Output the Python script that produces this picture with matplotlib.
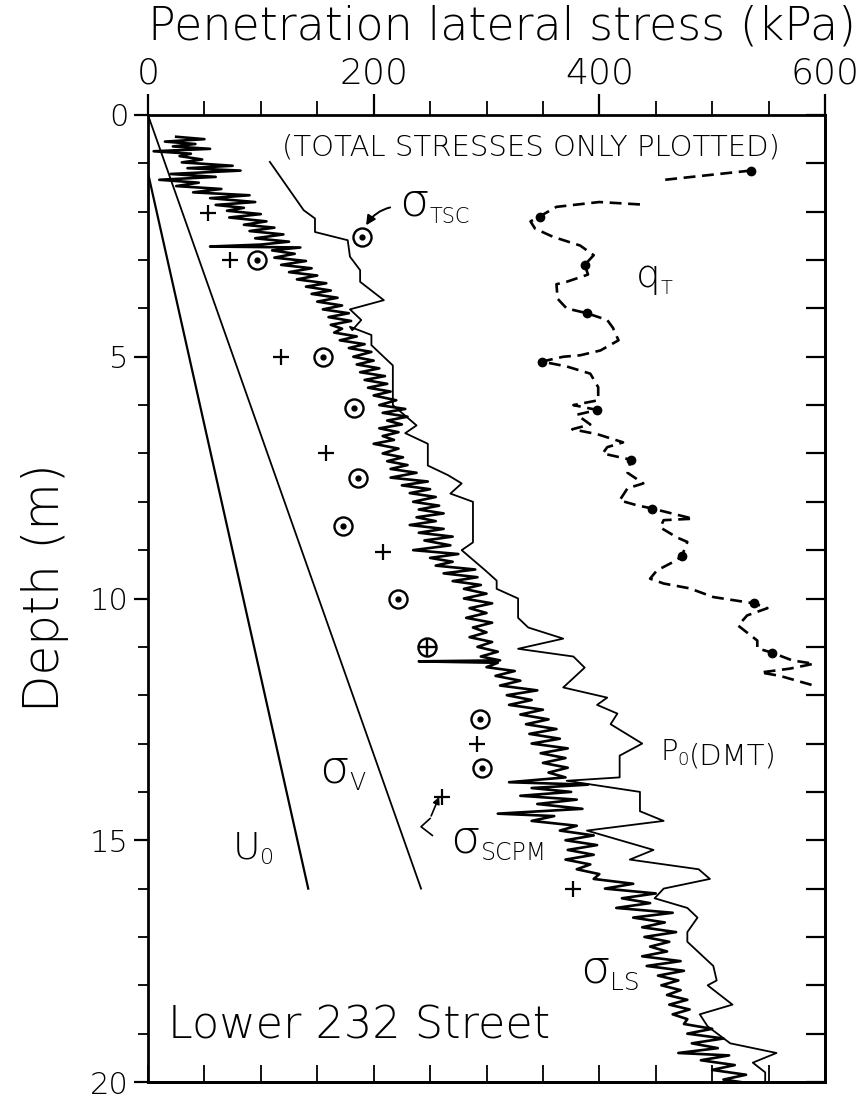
import numpy as np
import matplotlib
matplotlib.use("Agg")
import matplotlib.pyplot as plt
from matplotlib.ticker import MultipleLocator

plt.rcParams["font.family"] = ["DejaVu Sans"]
plt.rcParams["font.weight"] = "light"
plt.rcParams["mathtext.fontset"] = "dejavusans"

# ---------------------------------------------------------------- data
# hydrostatic pore pressure and total vertical stress (kPa vs depth m)
u0_x, u0_d = [0, 142], [1.2, 16.0]
sv_x, sv_d = [0, 242], [0.0, 16.0]

# flat dilatometer P0 (DMT) profile
dmt_x = [108, 138, 148, 148, 177, 179, 188, 188, 209, 179, 189, 181, 179, 198, 198,
         217, 217, 238, 228, 248, 248, 266, 278, 268, 288, 288, 278, 299, 309, 309,
         328, 328, 337, 368, 328, 377, 387, 368, 407, 398, 416, 410, 438, 418, 418,
         371, 436, 436, 457, 389, 448, 427, 488, 498, 457, 449, 478, 487, 478, 478,
         501, 504, 496, 518, 489, 496, 516, 557, 536, 547, 547]
dmt_d = [0.97, 1.97, 2.14, 2.42, 2.59, 2.93, 3.21, 3.45, 3.83, 4.02, 4.24, 4.45, 4.38,
         4.55, 4.76, 5.18, 6.0, 6.42, 6.58, 6.8, 7.25, 7.45, 7.62, 7.83, 8.0, 8.84,
         9.0, 9.42, 9.63, 9.8, 10.0, 10.4, 10.6, 10.83, 11.04, 11.2, 11.43, 11.84,
         12.05, 12.2, 12.38, 12.6, 13.0, 13.25, 13.7, 13.77, 14.0, 14.4, 14.6, 14.8,
         15.2, 15.4, 15.6, 15.8, 16.0, 16.2, 16.4, 16.6, 16.9, 17.1, 17.6, 17.9, 18.0,
         18.4, 18.6, 18.85, 19.2, 19.4, 19.6, 19.8, 20.0]

# cone tip resistance q_T (dashed)
qt_x = [534, 458, np.nan, 436, 400, 362, 347, 339, 343, 359, 383, 395, 387, 390, 371,
        362, 363, 371, 389, 407, 412, 417, 401, 383, 368, 349, 371, 392, 399, 399,
        377, 398, 380, 392, 376, 398, 421, 407, 403, 428, 425, 439, 425, 418, 433,
        447, 483, 457, 454, 469, 478, 473, 465, 451, 445, 457, 480, 501, 537, 549,
        531, 523, 540, 540, 553, 571, 590, 569, 543, 560, 590]
qt_d = [1.15, 1.34, np.nan, 1.85, 1.80, 1.90, 2.1, 2.2, 2.35, 2.52, 2.7, 2.9, 3.1, 3.3,
        3.45, 3.5, 3.8, 4.0, 4.1, 4.24, 4.4, 4.66, 4.87, 4.97, 5.0, 5.1, 5.2, 5.35,
        5.63, 5.9, 6.0, 6.1, 6.2, 6.4, 6.5, 6.6, 6.77, 6.87, 7.0, 7.13, 7.4, 7.62,
        7.72, 7.97, 8.07, 8.14, 8.35, 8.38, 8.53, 8.74, 8.83, 9.13, 9.25, 9.42, 9.59,
        9.69, 9.79, 9.97, 10.1, 10.2, 10.35, 10.56, 10.87, 11.03, 11.12, 11.28, 11.35,
        11.45, 11.53, 11.6, 11.8]
qt_dot_x = [534, 347, 387, 389, 349, 398, 428, 447, 473, 537, 553]
qt_dot_d = [1.15, 2.1, 3.1, 4.1, 5.1, 6.1, 7.13, 8.14, 9.13, 10.1, 11.12]

# lateral stress sensor trace (sigma_LS), read as a zig-zag scribble
ls_d = [0.45, 0.50, 0.55, 0.60, 0.65, 0.70, 0.75, 0.80, 0.85, 0.92, 0.98,
        1.05, 1.10, 1.15, 1.22, 1.28, 1.34, 1.40, 1.47, 1.53, 1.60, 1.66, 1.72, 1.80, 1.86, 1.92, 1.98,
        2.05, 2.12, 2.20, 2.27, 2.33, 2.40, 2.47, 2.55, 2.62, 2.68, 2.72, 2.74, 2.80, 2.87, 2.95,
        3.02, 3.10, 3.17, 3.25, 3.32, 3.40, 3.48, 3.55, 3.63, 3.70, 3.78, 3.86, 3.94,
        4.02, 4.10, 4.18, 4.26, 4.34, 4.42, 4.50, 4.58, 4.66, 4.74, 4.82, 4.90,
        5.00, 5.08, 5.16, 5.24, 5.32, 5.40, 5.48, 5.56, 5.64, 5.72, 5.80, 5.90,
        6.00, 6.08, 6.16, 6.24, 6.32, 6.40, 6.48, 6.56, 6.64, 6.72, 6.80, 6.90,
        7.00, 7.08, 7.16, 7.24, 7.32, 7.40, 7.50, 7.58, 7.66, 7.74, 7.82, 7.90,
        8.00, 8.08, 8.16, 8.24, 8.32, 8.40, 8.48, 8.56, 8.64, 8.72, 8.80, 8.90,
        9.00, 9.08, 9.16, 9.24, 9.32, 9.40, 9.48, 9.56, 9.64, 9.72, 9.80, 9.90,
        10.0, 10.1, 10.2, 10.3, 10.4, 10.5, 10.6, 10.7, 10.8, 10.9, 11.0,
        11.1, 11.2, 11.28, 11.30, 11.33, 11.42, 11.5, 11.6, 11.7, 11.8, 11.9, 12.0,
        12.1, 12.2, 12.3, 12.4, 12.5, 12.6, 12.7, 12.8, 12.9, 13.0,
        13.1, 13.2, 13.3, 13.4, 13.5, 13.6, 13.7, 13.8, 13.85, 13.92, 14.0,
        14.08, 14.16, 14.25, 14.35, 14.45, 14.5, 14.6, 14.7, 14.8, 14.9, 15.0,
        15.1, 15.2, 15.3, 15.4, 15.5, 15.6, 15.7, 15.8, 15.9, 16.0,
        16.1, 16.2, 16.3, 16.4, 16.5, 16.6, 16.7, 16.8, 16.9, 17.0,
        17.1, 17.2, 17.3, 17.4, 17.5, 17.6, 17.7, 17.8, 17.9, 18.0,
        18.1, 18.2, 18.3, 18.4, 18.5, 18.6, 18.7, 18.8, 18.9, 19.0,
        19.1, 19.2, 19.3, 19.4, 19.45, 19.55, 19.65, 19.75, 19.85, 19.95, 20.0]
ls_x = [25, 50, 15, 42, 22, 55, 5, 38, 28, 48, 30,
        75, 35, 82, 20, 60, 10, 45, 25, 65, 40, 90, 55, 95, 60, 85, 70,
        100, 72, 105, 85, 112, 90, 120, 95, 125, 100, 55, 135, 110, 130, 112,
        140, 118, 145, 125, 150, 132, 158, 140, 162, 145, 168, 150, 172,
        155, 178, 160, 180, 162, 172, 165, 185, 170, 192, 178, 198,
        182, 200, 185, 205, 188, 210, 192, 212, 195, 215, 200, 220,
        205, 228, 208, 230, 212, 225, 205, 222, 208, 218, 200, 222,
        208, 226, 212, 230, 215, 238, 215, 248, 225, 250, 232, 255,
        235, 258, 240, 262, 238, 255, 232, 262, 240, 270, 245, 268,
        235, 275, 250, 270, 255, 290, 262, 292, 270, 295, 280, 300,
        280, 305, 285, 300, 282, 305, 288, 300, 285, 305, 292,
        310, 295, 312, 240, 310, 300, 325, 308, 330, 312, 345, 318,
        340, 320, 350, 330, 355, 335, 362, 338, 365, 340,
        372, 348, 370, 350, 372, 355, 370, 320, 390, 340, 375,
        330, 380, 345, 385, 310, 360, 340, 380, 365, 395, 370,
        398, 372, 395, 370, 392, 380, 400, 395, 430, 405,
        450, 420, 445, 415, 465, 430, 458, 438, 468, 440,
        462, 445, 460, 438, 472, 442, 475, 452, 470, 455,
        472, 460, 478, 462, 480, 465, 478, 475, 500, 478,
        510, 482, 505, 470, 515, 490, 520, 500, 530, 510, 525]

# self-boring / cone pressuremeter points
tsc_x = [190, 97, 155, 183, 186, 173, 222, 294, 296]
tsc_d = [2.52, 3.0, 5.0, 6.05, 7.5, 8.5, 10.0, 12.5, 13.5]
tsc_cross_x, tsc_cross_d = [247], [11.0]
scpm_x = [53, 73, 118, 158, 208, 292, 261, 377]
scpm_d = [2.03, 3.0, 5.0, 7.0, 9.03, 13.0, 14.1, 16.0]

# ---------------------------------------------------------------- figure
W, H = 863, 1098
fig = plt.figure(figsize=(W / 100, H / 100), dpi=100)
x0, x1, y0, y1 = 148, 825, 115, 1082
ax = fig.add_axes([x0 / W, 1 - y1 / H, (x1 - x0) / W, (y1 - y0) / H])
ax.set_xlim(0, 600)
ax.set_ylim(20, 0)

ink = "black"
ax.plot(u0_x, u0_d, color=ink, lw=1.6)
ax.plot(sv_x, sv_d, color=ink, lw=1.3)
ax.plot(dmt_x, dmt_d, color=ink, lw=1.3)
ax.plot(ls_x, ls_d, color=ink, lw=1.9)
ax.plot(qt_x, qt_d, color=ink, lw=1.9, ls=(0, (4.5, 2.5)))
ax.plot(qt_dot_x, qt_dot_d, "o", color=ink, ms=6)

# pressuremeter markers: circle with centre dot, plus
ax.plot(tsc_x, tsc_d, "o", mfc="white", mec=ink, ms=13, mew=1.7)
ax.plot(tsc_x, tsc_d, "o", color=ink, ms=3.5)
ax.plot(tsc_cross_x, tsc_cross_d, "o", mfc="white", mec=ink, ms=13, mew=1.7)
ax.plot(tsc_cross_x, tsc_cross_d, "+", color=ink, ms=13, mew=1.7)
ax.plot(scpm_x, scpm_d, "+", color=ink, ms=11, mew=1.6)

# small pointer arrows
ax.annotate("", xy=(192, 2.33), xytext=(217, 1.9),
            arrowprops=dict(arrowstyle="-|>", color=ink, lw=1.4,
                            connectionstyle="angle3,angleA=10,angleB=60",
                            mutation_scale=14))
ax.annotate("", xy=(259, 14.05), xytext=(250, 14.55),
            arrowprops=dict(arrowstyle="-|>", color=ink, lw=1.2, mutation_scale=10))
ax.plot([250, 242, 252], [14.55, 14.72, 14.9], color=ink, lw=1.2)


def sub_label(x, d, main, sub, fs_main, fs_sub, tail=None):
    t = ax.text(x, d, main, fontsize=fs_main, ha="left", va="baseline")
    s = ax.annotate(sub, xy=(1, 0), xycoords=t, fontsize=fs_sub,
                    ha="left", va="baseline", xytext=(0, 1), textcoords="offset points")
    if tail:
        ax.annotate(tail, xy=(1, 0), xycoords=s, fontsize=fs_main, ha="left",
                    va="bottom", xytext=(0, -1), textcoords="offset points")


ax.text(339, 0.68, "(TOTAL STRESSES ONLY PLOTTED)", fontsize=21, ha="center", va="center")
sub_label(223, 2.07, "σ", "TSC", 34, 15)
sub_label(432, 3.56, "q", "T", 28, 14)
sub_label(454, 13.35, "P", "0", 21, 13, tail="(DMT)")
sub_label(152, 13.8, "σ", "V", 34, 17)
sub_label(75, 15.38, "U", "0", 27, 16)
sub_label(268, 15.26, "σ", "SCPM", 34, 17)
sub_label(383, 17.95, "σ", "LS", 34, 18)
ax.text(18, 18.85, "Lower 232 Street", fontsize=32, ha="left", va="center")

# axes styling: ticks out on top/left, in on bottom/right
for s in ax.spines.values():
    s.set_linewidth(2)
ax.xaxis.set_ticks_position("top")
ax.set_xticks([0, 200, 400, 600])
ax.xaxis.set_minor_locator(MultipleLocator(50))
ax.set_yticks([0, 5, 10, 15, 20])
ax.yaxis.set_minor_locator(MultipleLocator(1))
ax.tick_params(axis="x", which="major", direction="out", length=15, width=1.6,
               labelsize=26, pad=3)
ax.tick_params(axis="x", which="minor", direction="out", length=10, width=1.3)
ax.tick_params(axis="y", which="major", direction="out", length=10, width=1.6,
               labelsize=22, pad=4)
ax.tick_params(axis="y", which="minor", direction="out", length=7, width=1.3)

sb = ax.secondary_xaxis("bottom")
sb.set_xticks(np.arange(0, 601, 50))
sb.tick_params(direction="in", length=12, width=1.3, labelbottom=False)
sb.spines["bottom"].set_linewidth(2)
sr = ax.secondary_yaxis("right")
sr.set_yticks(np.arange(0, 21, 1))
sr.tick_params(direction="in", length=14, width=1.6, labelright=False)
sr.spines["right"].set_linewidth(2)

fig.text(502 / W, 1 - 27 / H, "Penetration lateral stress (kPa)", fontsize=33,
         ha="center", va="center")
fig.text(45 / W, 1 - 588 / H, "Depth (m)", fontsize=35, rotation=90,
         ha="center", va="center")

fig.savefig("out.png", dpi=100)
